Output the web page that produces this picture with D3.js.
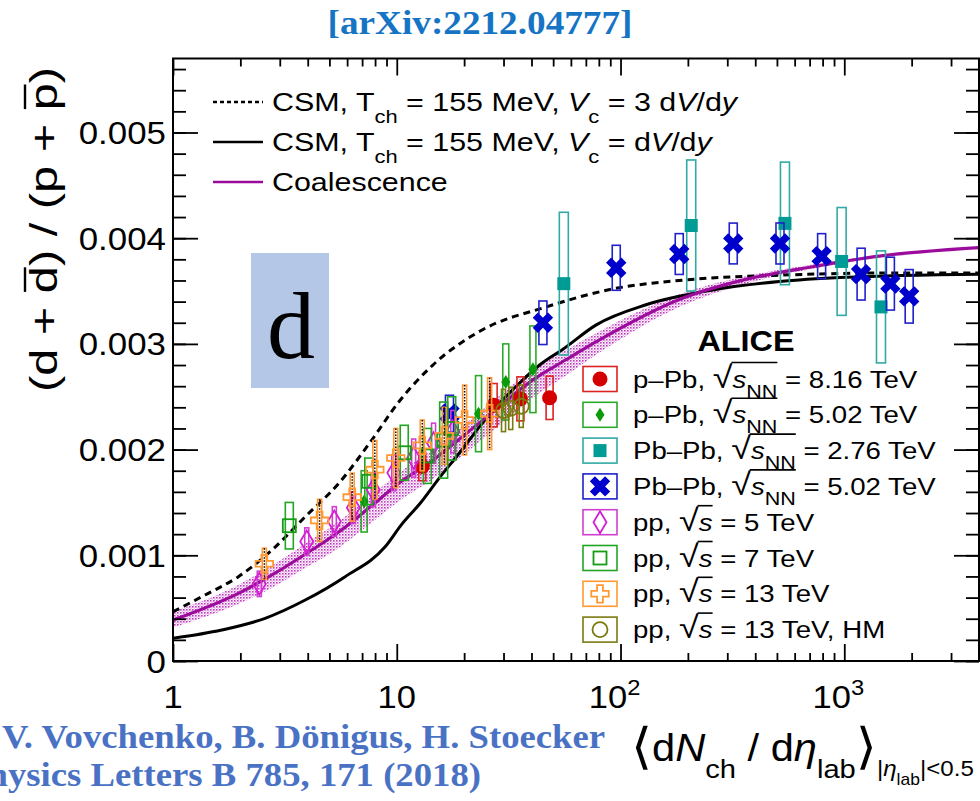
<!DOCTYPE html>
<html>
<head>
<meta charset="utf-8">
<script src="https://cdn.jsdelivr.net/npm/d3@7"></script>
<style>
    body { margin: 0; background: #ffffff; }
    svg { display: block; }
    text { font-family: "Liberation Sans", Arial, sans-serif; fill: #000000; }
    .serif { font-family: "Liberation Serif", "Times New Roman", serif; }
</style>
</head>
<body>
<svg id="svgRatio" width="980" height="801"></svg>
<script>

// Tick labels
var xMajorTicks = [1, 10, 100, 1000];
var xMajorLabels = [["1"], ["10"], ["10", "2"], ["10", "3"]];
var yMajorTicks = [0, 0.001, 0.002, 0.003, 0.004, 0.005];
var yMajorLabels = ["0", "0.001", "0.002", "0.003", "0.004", "0.005"];

// CSM, Vc = 3 dV/dy (dashed)
var csm3X = [1, 1.39, 1.96, 2.77, 3.9, 5.5, 7.73, 10.2, 14.5, 23.5, 46.6, 92.4, 183, 513, 1433, 4000];
var csm3Y = [0.000466, 0.000624, 0.000798, 0.00105, 0.001365, 0.00168, 0.00209, 0.00245, 0.0028, 0.00312, 0.00335, 0.00352, 0.0036, 0.00365, 0.00367, 0.00367];

// CSM, Vc = dV/dy (solid)
var csm1X = [1, 1.65, 2.58, 3.9, 5.88, 8.87, 10.5, 12.7, 15.6, 19.1, 23.5, 28.8, 35.4, 43.5, 55.3, 77.9, 130, 258, 513, 1018, 4000];
var csm1Y = [0.000215, 0.000293, 0.000404, 0.000577, 0.000798, 0.00108, 0.00129, 0.00149, 0.00174, 0.00197, 0.00222, 0.00244, 0.00263, 0.0028, 0.00295, 0.00318, 0.00337, 0.00351, 0.00359, 0.00363, 0.00366];

// Coalescence with its band
var coalX = [1, 1.96, 2.77, 3.9, 5.5, 7.73, 10.5, 14.5, 20.4, 28.8, 40.6, 57, 80.8, 183, 363, 722, 1433, 4000];
var coalY = [0.000388, 0.00064, 0.000814, 0.00101, 0.00122, 0.00147, 0.0017, 0.0019, 0.00215, 0.00241, 0.00266, 0.00285, 0.00304, 0.00342, 0.00361, 0.00373, 0.00383, 0.00391];
var coalLow = [0.000318, 0.00054, 0.000694, 0.00088, 0.00107, 0.00131, 0.00153, 0.00172, 0.00197, 0.00223, 0.00249, 0.0027, 0.00292, 0.00335, 0.00357, 0.00371, 0.00382, 0.0039];
var coalHigh = [0.000468, 0.00072, 0.000904, 0.00111, 0.00132, 0.00157, 0.0018, 0.002, 0.00225, 0.00251, 0.00276, 0.00294, 0.00312, 0.00347, 0.00364, 0.00375, 0.00384, 0.00392];

// ALICE data: [dNch/deta, ratio, systematic half height]
var pPb816 = [[13.0, 0.00184, 0.000134], [27.1, 0.00242, 0.000205], [35.7, 0.00248, 0.000208], [48.2, 0.00249, 0.000205]];
var pPb502 = [[7.15, 0.00151, 0.00029], [23.2, 0.00234, 0.00036], [30.7, 0.00264, 0.00036], [40.6, 0.00276, 0.00041]];
var PbPb276 = [[55.8, 0.00357, 0.000675], [207, 0.00412, 0.00062], [543, 0.00414, 0.00058], [973, 0.00378, 0.00051], [1459, 0.00335, 0.00053]];
var PbPb502 = [[17.2, 0.00234, 0.000174], [45.0, 0.0032, 0.000206], [95.7, 0.00372, 0.000213], [183, 0.00385, 0.000193], [319, 0.00395, 0.000193], [516, 0.00395, 0.000194], [792, 0.00383, 0.000213], [1189, 0.00366, 0.000245], [1607, 0.00357, 0.00025], [1950, 0.00345, 0.000253]];
var pp5 = [[2.43, 0.00073, 0.00012], [3.96, 0.00113, 0.00013], [5.26, 0.00132, 0.00014], [6.4, 0.00145, 0.00015], [7.85, 0.00162, 0.00016], [9.7, 0.00178, 0.00017], [11.9, 0.00192, 0.00018], [14.6, 0.00206, 0.00019], [17.8, 0.00217, 0.0002]];
var pp7 = [[3.31, 0.00128, 0.00022], [7.5, 0.0017, 0.00022], [10.8, 0.00197, 0.00026], [13.7, 0.00194, 0.00026], [16.2, 0.00209, 0.00036], [17.6, 0.0022, 0.0003]];
var pp13 = [[2.56, 0.00092, 0.000147], [4.52, 0.00133, 0.0002], [6.32, 0.00155, 0.000227], [7.98, 0.00181, 0.000276], [9.9, 0.00192, 0.00028], [13.0, 0.00204, 0.00024], [16.3, 0.00213, 0.00027], [20.1, 0.00228, 0.00033], [26.0, 0.00234, 0.00034]];
var pp13HM = [[30.0, 0.00237, 0.0002], [32.3, 0.00239, 0.0002], [36.0, 0.00241, 0.0002]];

// Legend texts
var curveLabels = [
    [{t: "CSM, T"}, {t: "ch", sub: true}, {t: " = 155 MeV, "}, {t: "V", it: true}, {t: "c", sub: true}, {t: " = 3 d"}, {t: "V", it: true}, {t: "/d"}, {t: "y", it: true}],
    [{t: "CSM, T"}, {t: "ch", sub: true}, {t: " = 155 MeV, "}, {t: "V", it: true}, {t: "c", sub: true}, {t: " = d"}, {t: "V", it: true}, {t: "/d"}, {t: "y", it: true}],
    [{t: "Coalescence"}]
];

function sqrtNN(energy, prefix) {
    return [{t: prefix}, {t: "\u221A", rad: true}, {t: "s", it: true, ol: 1}, {t: "NN", sub: true, sc: 0.78, lvl: 0.42, ol: 1}, {t: " = " + energy + " TeV"}];
}
function sqrtS(rest) {
    return [{t: "pp, "}, {t: "\u221A", rad: true}, {t: "s", it: true, ol: 1}, {t: " = " + rest}];
}

var series = [
    {data: pPb816, label: sqrtNN("8.16", "p\u2013Pb, "), marker: "circle", color: "#d40000", box: "#dd2222", boxW: 7},
    {data: pPb502, label: sqrtNN("5.02", "p\u2013Pb, "), marker: "smallDiamond", color: "#0a9a0a", box: "#2aaa2a", boxW: 6},
    {data: PbPb276, label: sqrtNN("2.76", "Pb\u2013Pb, "), marker: "square", color: "#009b95", box: "#30aaa6", boxW: 9},
    {data: PbPb502, label: sqrtNN("5.02", "Pb\u2013Pb, "), marker: "xcross", color: "#0000cc", box: "#2020cc", boxW: 8},
    {data: pp5, label: sqrtS("5 TeV"), marker: "openDiamond", color: "#d21fd2", box: "#d040d0", boxW: 4},
    {data: pp7, label: sqrtS("7 TeV"), marker: "openSquare", color: "#169c16", box: "#22a622", boxW: 8},
    {data: pp13, label: sqrtS("13 TeV"), marker: "openCross", color: "#ff9933", box: "#ff9933", boxW: 4, dotted: true},
    {data: pp13HM, label: sqrtS("13 TeV, HM"), marker: "openCircle", color: "#7a7a10", box: "#7a7a10", boxW: 4}
];

var svg = d3.select("#svgRatio");

var frame = {left: 173, right: 979, top: 58.5, bottom: 661};

var xScale = d3.scaleLog()
    .domain([1, 4000])
    .range([frame.left, frame.right]);

var yScale = d3.scaleLinear()
    .domain([0, 0.0057])
    .range([frame.bottom, frame.top]);

function stretchedText(parent, x, y, sx, size, transform) {
    /*
     * Makes a text inside a group that is stretched along the text direction
     */
    var g = parent.append("g")
        .attr("transform", `translate(${x},${y}) ${transform || ""} scale(${sx},1)`);
    var text = g.append("text").attr("font-size", size);
    return {g: g, text: text};
}

function richText(text, segs, size) {
    /*
     * Appends tspans with sub/superscripts, italics and overline groups
     */
    var shift = 0;
    segs.forEach(function(seg) {
        var level = seg.sub ? size * 0.45 : (seg.sup ? -size * 0.42 : 0);
        if (seg.lvl !== undefined) level = seg.lvl * size;
        var span = text.append("tspan")
            .attr("dy", level - shift)
            .text(seg.t);
        shift = level;
        if (seg.sub || seg.sup) span.attr("font-size", size * 0.72);
        if (seg.sc) span.attr("font-size", size * seg.sc);
        if (seg.it) span.attr("font-style", "italic");
        if (seg.font) span.attr("font-family", seg.font);
        if (seg.ol) span.attr("data-ol", seg.ol);
        if (seg.rad) span.attr("data-rad", 1).attr("font-size", size * 1.3);
    });
}

function drawOverlines(group, text, y, width) {
    /*
     * Draws a line over every overline group of a rich text
     */
    var groups = {};
    var radRight = null;
    text.selectAll("tspan").each(function() {
        var node = d3.select(this);
        var box = this.getBBox();
        if (node.attr("data-rad")) radRight = box.x + box.width - 1.5;
        var id = node.attr("data-ol");
        if (!id) return;
        if (!groups[id]) groups[id] = {x0: radRight !== null ? radRight : box.x + 1, x1: box.x + box.width};
        groups[id].x1 = box.x + box.width - (radRight !== null ? 0 : 1);
    });
    Object.values(groups).forEach(function(g) {
        group.append("line")
            .attr("x1", g.x0).attr("x2", g.x1)
            .attr("y1", y).attr("y2", y)
            .attr("stroke", "#000").attr("stroke-width", width);
    });
}

// Pattern for the coalescence band
var defs = svg.append("defs");
var pattern = defs.append("pattern")
    .attr("id", "dots")
    .attr("width", 3).attr("height", 3)
    .attr("patternUnits", "userSpaceOnUse");
pattern.append("rect")
    .attr("width", 1.6).attr("height", 1.6)
    .attr("fill", "#c035c0");
pattern.append("rect")
    .attr("x", 1.5).attr("y", 1.5)
    .attr("width", 1.2).attr("height", 1.2)
    .attr("fill", "#dd80dd");

defs.append("clipPath").attr("id", "clip")
    .append("rect")
    .attr("x", frame.left).attr("y", frame.top)
    .attr("width", frame.right - frame.left).attr("height", frame.bottom - frame.top);

var plot = svg.append("g").attr("clip-path", "url(#clip)");

// Draw the coalescence band
plot.append("path")
    .datum(coalX.map(function(x, i) { return [x, coalLow[i], coalHigh[i]]; }))
    .attr("fill", "url(#dots)")
    .attr("d", d3.area()
        .x(function(d) { return xScale(d[0]); })
        .y0(function(d) { return yScale(d[1]); })
        .y1(function(d) { return yScale(d[2]); })
        .curve(d3.curveMonotoneX));

function drawCurve(xs, ys, color, width, dash) {
    plot.append("path")
        .datum(xs.map(function(x, i) { return [x, ys[i]]; }))
        .attr("fill", "none")
        .attr("stroke", color)
        .attr("stroke-width", width)
        .attr("stroke-dasharray", dash)
        .attr("d", d3.line()
            .x(function(d) { return xScale(d[0]); })
            .y(function(d) { return yScale(d[1]); })
            .curve(d3.curveMonotoneX));
}

// Draw the model curves
drawCurve(csm1X, csm1Y, "#000000", 3, null);
drawCurve(csm3X, csm3Y, "#000000", 3, "7,5");
drawCurve(coalX, coalY, "#9c0c9c", 3.2, null);

function drawMarker(g, type, cx, cy, color) {
    /*
     * Draws one data marker
     */
    if (type === "circle") {
        g.append("circle").attr("cx", cx).attr("cy", cy).attr("r", 7.5).attr("fill", color);
    } else if (type === "openCircle") {
        g.append("circle").attr("cx", cx).attr("cy", cy).attr("r", 7.5)
            .attr("fill", "none").attr("stroke", color).attr("stroke-width", 1.8);
    } else if (type === "square") {
        g.append("rect").attr("x", cx - 6.5).attr("y", cy - 6.5).attr("width", 13).attr("height", 13).attr("fill", color);
    } else if (type === "openSquare") {
        g.append("rect").attr("x", cx - 6.5).attr("y", cy - 6.5).attr("width", 13).attr("height", 13)
            .attr("fill", "none").attr("stroke", color).attr("stroke-width", 1.8);
    } else if (type === "smallDiamond") {
        g.append("path").attr("d", `M${cx},${cy - 7}L${cx + 4.5},${cy}L${cx},${cy + 7}L${cx - 4.5},${cy}Z`).attr("fill", color);
    } else if (type === "openDiamond") {
        g.append("path").attr("d", `M${cx},${cy - 11}L${cx + 6.5},${cy}L${cx},${cy + 11}L${cx - 6.5},${cy}Z`)
            .attr("fill", "none").attr("stroke", color).attr("stroke-width", 1.8);
    } else if (type === "xcross") {
        g.append("path").attr("d", d3.symbol(d3.symbolCross, 260)())
            .attr("transform", `translate(${cx},${cy}) rotate(45)`).attr("fill", color);
    } else if (type === "openCross") {
        g.append("path").attr("d", d3.symbol(d3.symbolCross, 170)())
            .attr("transform", `translate(${cx},${cy})`)
            .attr("fill", "none").attr("stroke", color).attr("stroke-width", 1.8);
    }
}

// Draw systematic boxes and markers of every data set
var dataLayer = svg.append("g").attr("clip-path", "url(#clip)");
series.forEach(function(s) {
    var g = dataLayer.append("g");
    g.selectAll(".box")
        .data(s.data)
        .enter()
        .append("rect")
            .attr("class", "box")
            .attr("x", function(d) { return xScale(d[0]) - s.boxW / 2; })
            .attr("y", function(d) { return yScale(d[1] + d[2]); })
            .attr("width", s.boxW)
            .attr("height", function(d) { return yScale(d[1] - d[2]) - yScale(d[1] + d[2]); })
            .attr("fill", "none")
            .attr("stroke", s.box)
            .attr("stroke-width", 1.6);
    if (s.dotted) {
        g.selectAll(".stat")
            .data(s.data)
            .enter()
            .append("line")
                .attr("class", "stat")
                .attr("x1", function(d) { return xScale(d[0]); })
                .attr("x2", function(d) { return xScale(d[0]); })
                .attr("y1", function(d) { return yScale(d[1] + d[2]); })
                .attr("y2", function(d) { return yScale(d[1] - d[2]); })
                .attr("stroke", "#000")
                .attr("stroke-width", 1.4)
                .attr("stroke-dasharray", "1.5,1.5");
    }
    s.data.forEach(function(d) {
        drawMarker(g, s.marker, xScale(d[0]), yScale(d[1]), s.color);
    });
});

// Draw the frame
svg.append("rect")
    .attr("x", frame.left).attr("y", frame.top)
    .attr("width", frame.right - frame.left).attr("height", frame.bottom - frame.top)
    .attr("fill", "none").attr("stroke", "#000").attr("stroke-width", 2);

var xMinorTicks = xScale.ticks().filter(function(t) { return xMajorTicks.indexOf(t) < 0; });
var yMinorTicks = d3.range(0, 0.00571, 0.0002);

function tickAxis(axis, ticks, size, transform) {
    svg.append("g")
        .attr("transform", transform)
        .call(axis.tickValues(ticks).tickSize(size).tickFormat(""))
        .call(function(g) { g.select(".domain").remove(); })
        .selectAll("line").attr("stroke", "#000").attr("stroke-width", 1.8);
}

// Draw inward ticks on all four sides
tickAxis(d3.axisBottom(xScale), xMinorTicks, -8, `translate(0,${frame.bottom})`);
tickAxis(d3.axisBottom(xScale), xMajorTicks, -17, `translate(0,${frame.bottom})`);
tickAxis(d3.axisTop(xScale), xMinorTicks, -8, `translate(0,${frame.top})`);
tickAxis(d3.axisTop(xScale), xMajorTicks, -17, `translate(0,${frame.top})`);
tickAxis(d3.axisLeft(yScale), yMinorTicks, -13, `translate(${frame.left},0)`);
tickAxis(d3.axisLeft(yScale), yMajorTicks, -25, `translate(${frame.left},0)`);
tickAxis(d3.axisRight(yScale), yMinorTicks, -13, `translate(${frame.right},0)`);
tickAxis(d3.axisRight(yScale), yMajorTicks, -25, `translate(${frame.right},0)`);

// Draw x tick labels
xMajorTicks.forEach(function(t, i) {
    var parts = xMajorLabels[i];
    var label = stretchedText(svg, xScale(t) + (parts.length > 1 ? -6 : 0), 708, 1.08, 32).text
        .attr("text-anchor", "middle");
    label.append("tspan").text(parts[0]);
    if (parts.length > 1) {
        label.append("tspan").attr("dy", -13).attr("font-size", 22).text(parts[1]);
    }
});

// Draw y tick labels
yMajorTicks.forEach(function(t, i) {
    stretchedText(svg, 166, yScale(t) + 11.5, 1.09, 32).text
        .attr("text-anchor", "end")
        .text(yMajorLabels[i]);
});

// Draw y label
var yLabel = stretchedText(svg, 57, 67, 1.25, 39, "rotate(-90)");
yLabel.text.attr("text-anchor", "end");
richText(yLabel.text, [{t: "(d + "}, {t: "d", ol: 1}, {t: ") / (p + "}, {t: "p", ol: 2}, {t: ")"}], 39);
drawOverlines(yLabel.g, yLabel.text, -32, 2.4);

// Draw x label
var xLabel = stretchedText(svg, 631, 761, 1.095, 38);
richText(xLabel.text, [
    {t: "\u27E8", font: "DejaVu Sans", sc: 1.3, lvl: 0.06}, {t: "d", lvl: 0}, {t: "N", it: true}, {t: "ch", sub: true, sc: 0.7},
    {t: " / d"}, {t: "\u03B7", it: true}, {t: "lab", sub: true, sc: 0.7},
    {t: "\u27E9", font: "DejaVu Sans", sc: 1.3, lvl: 0.06},
    {t: "|", sc: 0.58, lvl: 0.4}, {t: "\u03B7", it: true, sc: 0.58, lvl: 0.4}, {t: "lab", lvl: 0.62, sc: 0.42}, {t: "|<0.5", sc: 0.58, lvl: 0.4}
], 38);

// Draw the model legend
var curveStyles = [
    {color: "#000000", dash: "4,3", width: 2.5},
    {color: "#000000", dash: null, width: 2.5},
    {color: "#9c0c9c", dash: null, width: 2.5}
];
curveLabels.forEach(function(segs, i) {
    var yRow = 102 + i * 40;
    svg.append("line")
        .attr("x1", 213).attr("x2", 263)
        .attr("y1", yRow).attr("y2", yRow)
        .attr("stroke", curveStyles[i].color)
        .attr("stroke-width", curveStyles[i].width)
        .attr("stroke-dasharray", curveStyles[i].dash);
    var label = stretchedText(svg, 272, yRow + 9, 1.17, 26);
    richText(label.text, segs, 26);
});

// Draw the ALICE legend
stretchedText(svg, 746, 351, 1.08, 30).text
    .attr("text-anchor", "middle")
    .attr("font-weight", "bold")
    .text("ALICE");

var legendGroup = svg.append("g");
series.forEach(function(s, i) {
    var yRow = 379 + i * 35.8;
    legendGroup.append("rect")
        .attr("x", 583).attr("y", yRow - 12.5)
        .attr("width", 34).attr("height", 25)
        .attr("fill", "none").attr("stroke", s.box).attr("stroke-width", 1.6);
    drawMarker(legendGroup, s.marker, 600, yRow, s.color);
    var label = stretchedText(legendGroup, 633, yRow + 8.5, 1.15, 24);
    richText(label.text, s.label, 24);
    drawOverlines(label.g, label.text, -25, 1.6);
});

// Draw the "d" badge
svg.append("rect")
    .attr("x", 251).attr("y", 253)
    .attr("width", 78).attr("height", 135)
    .attr("fill", "#b4c7e7");
svg.append("text")
    .attr("class", "serif")
    .attr("x", 291).attr("y", 358)
    .attr("text-anchor", "middle")
    .attr("font-size", 96)
    .text("d");

// Draw title and reference notes
stretchedText(svg, 480, 34, 1.095, 34).text
    .attr("class", "serif")
    .attr("text-anchor", "middle")
    .attr("font-weight", "bold")
    .style("fill", "#1574c4")
    .text("[arXiv:2212.04777]");

stretchedText(svg, 2, 748, 1.08, 34).text
    .attr("class", "serif")
    .attr("font-weight", "bold")
    .style("fill", "#4a72c4")
    .text("V. Vovchenko, B. D\u00F6nigus, H. Stoecker");

stretchedText(svg, 481, 786, 1.08, 34).text
    .attr("class", "serif")
    .attr("text-anchor", "end")
    .attr("font-weight", "bold")
    .style("fill", "#4a72c4")
    .text("Physics Letters B 785, 171 (2018)");

</script>
</body>
</html>
